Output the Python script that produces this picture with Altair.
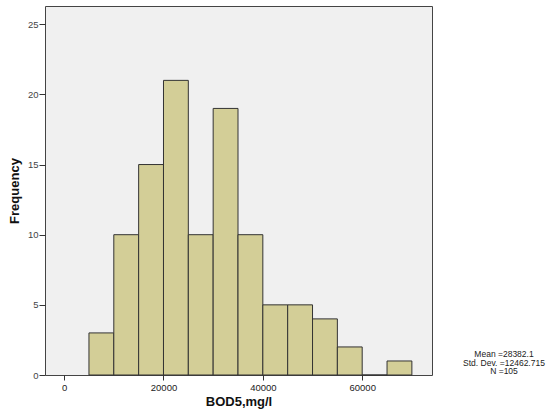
import altair as alt
import pandas as pd

bin_start = [5000, 10000, 15000, 20000, 25000, 30000, 35000, 40000, 45000, 50000, 55000, 60000, 65000]
bin_end = [10000, 15000, 20000, 25000, 30000, 35000, 40000, 45000, 50000, 55000, 60000, 65000, 70000]
counts = [3, 10, 15, 21, 10, 19, 10, 5, 5, 4, 2, 0, 1]
stats_lines = ["Mean =28382.1", "Std. Dev. =12462.715", "N =105"]

df = pd.DataFrame({"start": bin_start, "end": bin_end, "count": counts, "zero": [0] * len(counts)})
sdf = pd.DataFrame({"line": stats_lines, "idx": list(range(len(stats_lines)))})

W, H = 387, 369

x_scale = alt.Scale(domain=[-3850, 74050], nice=False, zero=False)
y_scale = alt.Scale(domain=[0, 26.3], nice=False)

bars = alt.Chart(df).mark_rect(
    fill="#D3CE97", stroke="#333333", strokeWidth=1
).encode(
    x=alt.X("start:Q", scale=x_scale,
            axis=alt.Axis(values=[0, 20000, 40000, 60000], title="BOD5,mg/l",
                          grid=False, domain=False, tickColor="#333333", tickSize=5,
                          labelFont="Arial", labelFontSize=9.5, labelColor="#222222",
                          labelPadding=2, titleFont="Arial", titleFontSize=13,
                          titleFontWeight="bold", titlePadding=4, titleColor="#111111",
                          format="d")),
    x2="end:Q",
    y=alt.Y("count:Q", scale=y_scale,
            axis=alt.Axis(values=[0, 5, 10, 15, 20, 25], title="Frequency",
                          grid=False, domain=False, tickColor="#333333", tickSize=6,
                          labelFont="Arial", labelFontSize=9.5, labelColor="#444444",
                          labelPadding=1, titleFont="Arial", titleFontSize=13,
                          titleFontWeight="bold", titlePadding=6, titleColor="#111111")),
    y2="zero:Q",
)

stats = alt.Chart(sdf).mark_text(
    font="Arial", fontSize=8.5, color="#222222", align="center", baseline="middle", clip=False
).encode(
    text="line:N",
    x=alt.value(459),
    y=alt.Y("idx:Q", scale=alt.Scale(domain=[0, 1], range=[348, 356.5]), axis=None),
)

chart = alt.layer(bars, stats).resolve_scale(y="independent").properties(
    width=W, height=H,
    autosize=alt.AutoSizeParams(type="none"),
    padding={"left": 45, "top": 6, "right": 124, "bottom": 42},
    background="white",
).configure_view(
    fill="#F0F0F0", stroke="#444444", strokeWidth=1
)

chart.save("out.html", embed_options={"renderer": "svg", "actions": False})
